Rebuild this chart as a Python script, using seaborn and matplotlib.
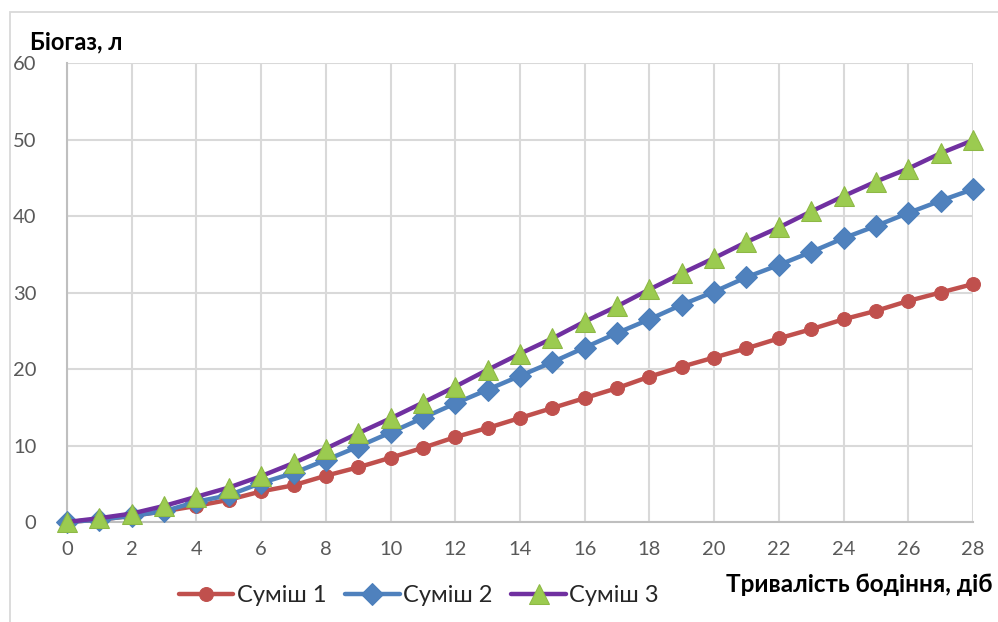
import matplotlib.pyplot as plt
import matplotlib.patches as mpatches
import pandas as pd
import seaborn as sns

# Data
days = list(range(29))
sumish_1 = [0, 0.3, 0.8, 1.4, 2.1, 2.9, 4.0, 4.8, 6.05, 7.15, 8.4, 9.7, 11.1, 12.3, 13.6, 14.9,
            16.2, 17.5, 19.0, 20.3, 21.5, 22.7, 24.0, 25.2, 26.5, 27.6, 28.9, 30.0, 31.1]
sumish_2 = [0, 0.3, 0.8, 1.4, 2.65, 3.5, 5.1, 6.4, 8.1, 9.85, 11.7, 13.6, 15.5, 17.3, 19.1, 20.9,
            22.8, 24.7, 26.5, 28.4, 30.1, 32.0, 33.6, 35.3, 37.1, 38.7, 40.4, 42.0, 43.5]
sumish_3 = [0, 0.5, 1.1, 2.1, 3.3, 4.5, 6.0, 7.7, 9.6, 11.6, 13.55, 15.6, 17.7, 19.9, 22.0, 24.0,
            26.2, 28.2, 30.4, 32.5, 34.5, 36.6, 38.5, 40.6, 42.6, 44.5, 46.2, 48.2, 49.9]
series_names = ['Суміш 1', 'Суміш 2', 'Суміш 3']
x_ticks = list(range(0, 29, 2))
y_ticks = list(range(0, 61, 10))

df = pd.DataFrame({'day': days, series_names[0]: sumish_1,
                   series_names[1]: sumish_2, series_names[2]: sumish_3})

sns.set_style('white')
plt.rcParams['font.family'] = ['Lato', 'DejaVu Sans']

fig = plt.figure(figsize=(9.98, 6.22), dpi=100)
ax = fig.add_axes([67 / 998, 1 - 522 / 622, 906 / 998, 459 / 622])

# light chart border (only top and left visible in the crop)
fig.patches.append(mpatches.Rectangle((10 / 998, -0.1), 1.2, 1 - 12 / 622 + 0.1,
                                      transform=fig.transFigure, fill=False,
                                      edgecolor='#d9d9d9', linewidth=1.3, zorder=0))

styles = [
    dict(color='#C0504D', marker='o', markersize=10, markerfacecolor='#C0504D',
         markeredgecolor='#C0504D'),
    dict(color='#4F81BD', marker='D', markersize=11, markerfacecolor='#4F81BD',
         markeredgecolor='#4A7EBB'),
    dict(color='#7030A0', marker='^', markersize=14, markerfacecolor='#9BCB50',
         markeredgecolor='#8DB845'),
]
for name, st in zip(series_names, styles):
    sns.lineplot(data=df, x='day', y=name, ax=ax, linewidth=3.2, label=name,
                 clip_on=False, zorder=3, **st)

ax.set_xlim(0, 28)
ax.set_ylim(0, 60)
ax.set_xticks(x_ticks)
ax.set_yticks(y_ticks)
ax.grid(True, color='#d9d9d9', linewidth=1.5)
ax.set_axisbelow(True)
for side in ['top', 'right']:
    ax.spines[side].set_visible(False)
for side in ['left', 'bottom']:
    ax.spines[side].set_color('#bfbfbf')
    ax.spines[side].set_linewidth(1.5)
ax.tick_params(axis='both', length=0, labelsize=14.5, labelcolor='#595959')
ax.tick_params(axis='x', pad=14)
ax.tick_params(axis='y', pad=22)
ax.set_xlabel('')
ax.set_ylabel('')

fig.text(30 / 998, 1 - 42 / 622, 'Біогаз, л', fontsize=17, fontweight='bold',
         ha='left', va='center', color='black')
fig.text(992 / 998, 1 - 585 / 622, 'Тривалість бодіння, діб', fontsize=17.5,
         fontweight='bold', ha='right', va='center', color='black')

ax.legend(loc='center', bbox_to_anchor=(419 / 998, 1 - 596 / 622),
          bbox_transform=fig.transFigure, ncol=3, frameon=False, fontsize=17,
          handlelength=2.3, columnspacing=0.8, handletextpad=0.15)

fig.savefig('out.png', dpi=100)
